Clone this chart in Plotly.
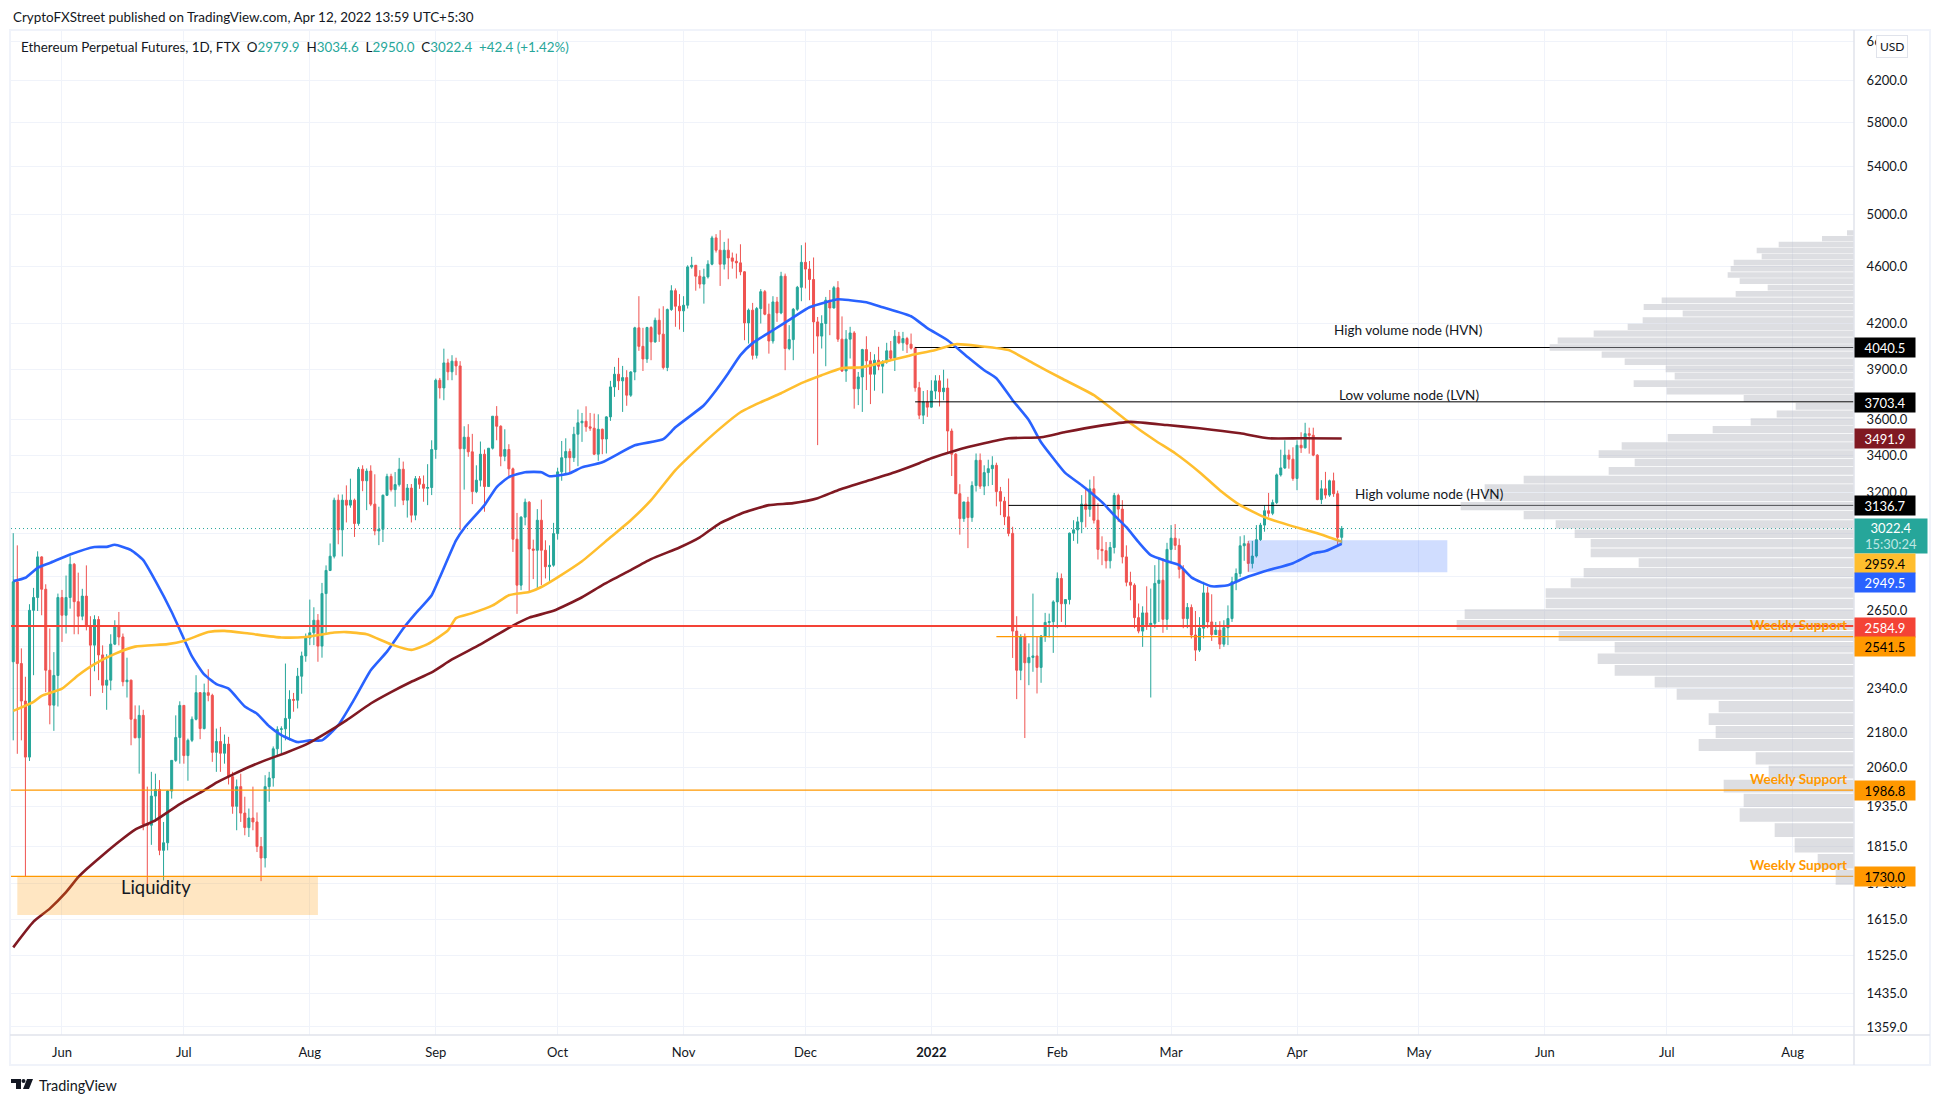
import math
import pandas as pd
import plotly.graph_objects as go

W, H = 1941, 1104
L, R, T, B = 11, 1854, 30, 1035

first_open = 2441
closes = [
2775,2434,2292,2095,2651,2706,2888,2742,2408,2277,
2388,2706,2630,2706,2854,2688,2626,2712,2584,2507,
2612,2468,2351,2370,2511,2584,2540,2364,2370,2226,
2161,2240,1881,1878,1968,1989,1804,1826,1984,2084,
2162,2276,2100,2152,2226,2323,2193,2323,2313,2111,
2148,2108,2139,2030,1936,1998,1915,1871,1900,1888,
1815,1782,1998,2026,2123,2190,2192,2229,2298,2295,
2385,2464,2536,2557,2609,2503,2723,2826,2891,3163,
3016,3163,3138,3163,3047,3324,3263,3314,3143,3011,
3019,3188,3286,3217,3243,3324,3163,3225,3088,3274,
3245,3224,3228,3431,3834,3787,3942,3886,3953,3923,
3435,3499,3418,3207,3266,3405,3233,3438,3619,3561,
3394,3431,3326,2971,2760,3078,3153,2925,2919,3063,
2919,2843,2850,2998,3310,3386,3420,3386,3516,3581,
3590,3558,3550,3405,3544,3489,3615,3793,3871,3830,
3850,3743,3885,4170,4048,3967,4172,4077,4221,4128,
3913,4294,4426,4317,4285,4324,4598,4610,4530,4473,
4525,4618,4817,4723,4618,4723,4665,4640,4628,4562,
4203,4290,3990,4301,4419,4262,4083,4347,4271,4530,
4034,4092,4296,4450,4632,4582,4506,4210,4115,4199,
4359,4305,4447,4095,3891,4095,4136,3782,3854,4027,
3955,3871,3959,3921,3948,4019,3972,4114,4071,4099,
4062,4036,3788,3625,3703,3672,3768,3830,3764,3786,
3534,3405,3196,3071,3154,3076,3238,3372,3235,3306,
3327,3345,3207,3158,3080,2999,2564,2408,2541,2437,
2458,2464,2419,2544,2600,2603,2687,2790,2679,2697,
3000,3016,3055,3143,3117,3221,3063,2923,2917,2870,
2932,3187,3118,2888,2773,2760,2620,2564,2640,2590,
2596,2768,2782,2613,2923,2976,2942,2831,2616,2663,
2548,2487,2576,2726,2602,2550,2568,2511,2578,2616,
2775,2812,2940,2950,2858,2892,2969,3039,3110,3097,
3151,3294,3331,3400,3378,3275,3454,3440,3519,3510,
3400,3166,3221,3189,3263,3196,2979.9,3022.4]
highs = [
3000,2942,2494,2383,2677,2748,2914,2891,2764,2575,
2479,2723,2739,2803,2891,2860,2816,2744,2849,2626,
2630,2626,2506,2471,2551,2609,2644,2554,2457,2372,
2276,2276,2260,1998,2046,2040,2019,1888,1987,2084,
2240,2291,2276,2158,2236,2389,2325,2357,2412,2319,
2193,2199,2172,2164,2046,2021,2040,1966,1929,1998,
1917,1843,2035,2046,2131,2201,2201,2434,2332,2322,
2417,2481,2554,2697,2664,2635,2770,2849,2951,3176,
3192,3192,3239,3274,3171,3336,3345,3328,3345,3297,
3130,3192,3300,3300,3309,3385,3365,3246,3246,3288,
3288,3291,3351,3482,3844,3848,4033,3968,3991,3975,
3953,3561,3573,3518,3345,3475,3431,3438,3619,3678,
3567,3544,3460,3333,3099,3083,3171,3158,2969,3118,
3166,2966,2942,3050,3332,3478,3493,3436,3558,3658,
3638,3677,3638,3634,3630,3548,3619,3830,3917,3974,
3923,3896,3890,4177,4387,4170,4177,4181,4239,4301,
4317,4301,4465,4442,4402,4387,4610,4673,4610,4574,
4585,4647,4833,4846,4877,4786,4812,4705,4697,4768,
4567,4301,4340,4312,4437,4431,4335,4387,4382,4562,
4549,4188,4305,4460,4761,4781,4642,4668,4243,4255,
4382,4431,4460,4494,4247,4155,4177,4148,3885,4032,
4114,4012,3997,4045,3959,4071,4083,4155,4143,4143,
4110,4132,4045,3824,3768,3774,3834,3865,3865,3899,
3844,3548,3412,3245,3154,3180,3260,3409,3409,3345,
3375,3394,3359,3231,3180,3275,3031,2626,2551,2554,
2514,2723,2541,2548,2640,2637,2694,2817,2812,2697,
3003,3063,3080,3189,3231,3269,3287,3147,2985,2958,
2958,3200,3196,3163,2942,2820,2768,2680,2668,2755,
2745,2850,2881,2881,2954,3039,3044,2974,2850,2682,
2676,2648,2622,2775,2753,2720,2602,2605,2609,2672,
2797,2835,2985,2990,2963,2963,3039,3050,3138,3200,
3166,3301,3430,3482,3430,3443,3482,3527,3581,3553,
3553,3405,3266,3310,3269,3306,3212,3034.6]
lows = [
2152,2106,2152,1730,2082,2389,2648,2630,2325,2208,
2185,2272,2520,2554,2658,2551,2551,2609,2567,2310,
2404,2370,2322,2260,2332,2507,2506,2347,2305,2135,
2159,2040,1863,1695,1820,1888,1790,1719,1804,1960,
2079,2073,2073,2017,2146,2222,2156,2190,2291,2079,
2046,2046,2073,2005,1913,1863,1888,1848,1843,1863,
1799,1717,1755,1950,1998,2095,2106,2152,2152,2253,
2265,2319,2441,2507,2507,2441,2457,2551,2823,2881,
2947,2890,3052,3125,2982,3036,3209,3113,3133,2990,
2943,2958,3184,3207,3130,3233,3138,3076,3052,3063,
3221,3155,3138,3189,3380,3723,3713,3834,3834,3865,
3014,3217,3391,3143,3199,3233,3105,3270,3431,3482,
3340,3367,3286,2911,2636,2738,3038,2726,2787,2741,
2760,2790,2779,2843,2969,3263,3302,3299,3363,3340,
3473,3530,3535,3400,3369,3405,3409,3592,3733,3774,
3644,3680,3733,3834,4019,3891,3942,3959,4071,4077,
3901,3890,4285,4177,4159,4143,4301,4585,4426,4442,
4335,4513,4610,4705,4460,4579,4508,4585,4513,4537,
4088,4066,3963,3970,4199,4255,4001,4066,4210,4262,
3896,4023,3959,4285,4352,4442,4359,4001,3455,4034,
3921,4121,4301,4077,3885,3824,3970,3663,3684,3644,
3774,3690,3770,3896,3754,3937,3959,3891,4062,4019,
4005,4027,3764,3602,3574,3615,3668,3719,3676,3713,
3408,3288,3196,2993,3055,2929,3055,3207,3221,3189,
3235,3241,3132,3088,3039,2985,2456,2299,2370,2160,
2351,2402,2320,2360,2520,2538,2476,2576,2602,2580,
2676,2963,2950,3000,3028,3080,3047,2876,2850,2835,
2835,2904,3055,2858,2755,2694,2576,2555,2500,2569,
2305,2576,2602,2557,2569,2858,2920,2790,2576,2576,
2534,2444,2480,2534,2576,2524,2548,2491,2500,2507,
2602,2738,2797,2870,2820,2835,2885,2963,3007,3080,
3088,3143,3285,3325,3327,3263,3214,3412,3436,3408,
3394,3163,3143,3171,3180,3180,2942,2950]

blue_idx = [0,3,6,9,14,20,23,25,29,32,35,39,42,44,47,50,53,57,60,63,66,70,73,76,80,84,88,92,96,99,103,105,109,111,116,119,122,126,130,132,137,140,145,153,160,163,170,173,176,179,182,187,192,196,200,203,206,210,214,221,225,230,235,239,242,246,250,253,256,259,263,268,271,274,277,280,284,287,290,295,299,303,308,315,320,323,327]
blue_val = [2778,2793,2838,2860,2899,2934,2935,2945,2920,2873,2779,2644,2533,2462,2392,2355,2338,2272,2246,2201,2170,2146,2152,2152,2205,2300,2408,2481,2575,2637,2716,2795,2966,3024,3138,3230,3282,3308,3308,3287,3303,3334,3361,3454,3488,3555,3683,3773,3877,3991,4069,4154,4241,4310,4345,4366,4359,4345,4310,4248,4168,4088,3978,3896,3846,3713,3596,3471,3383,3303,3240,3153,3088,3029,2957,2896,2868,2850,2795,2755,2760,2791,2822,2859,2905,2915,2949.5]
yellow_idx = [0,5,7,12,16,20,25,30,38,42,48,52,58,66,72,79,82,87,93,98,102,107,109,113,118,122,127,130,134,140,147,152,157,163,168,174,179,184,189,194,199,204,209,216,221,227,232,238,245,251,258,266,274,281,286,292,297,302,308,314,321,327]
yellow_val = [2256,2289,2311,2338,2389,2432,2472,2501,2511,2524,2560,2565,2554,2538,2540,2558,2560,2551,2510,2488,2511,2567,2618,2639,2672,2716,2730,2752,2795,2868,2980,3063,3163,3319,3426,3549,3642,3701,3755,3816,3865,3909,3915,3959,3991,4024,4062,4049,4024,3940,3846,3743,3596,3482,3410,3308,3214,3138,3078,3039,3000,2959.4]
maroon_idx = [0,5,9,13,16,18,22,26,30,35,41,47,50,54,58,62,67,72,77,82,88,93,98,103,108,115,123,127,133,140,145,151,157,164,169,174,180,186,192,198,203,210,217,223,226,232,239,245,253,259,267,275,284,292,302,309,317,327]
maroon_val = [1544,1609,1643,1687,1728,1750,1790,1829,1865,1893,1943,1986,2011,2037,2062,2084,2109,2137,2177,2222,2283,2325,2364,2400,2450,2510,2587,2620,2649,2707,2760,2818,2878,2932,2980,3049,3102,3138,3148,3173,3214,3261,3308,3356,3383,3426,3465,3493,3499,3528,3562,3586,3568,3550,3521,3493,3493,3491.9]

vp_top, vp_bottom = 4877, 1703
vp_volume = [21,96,226,292,277,361,370,379,343,259,355,577,631,514,634,679,781,889,913,757,688,565,538,661,562,331,175,232,310,424,559,697,766,658,736,991,1108,1108,1180,991,895,838,790,790,646,811,850,925,925,1168,1192,886,718,769,718,598,532,406,436,415,466,295,256,391,331,343,238,178,109,55]

y_tickvals = [6600,6200,5800,5400,5000,4600,4200,3900,3600,3400,3200,3000,2800,2650,2500,2340,2180,2060,1935,1815,1710,1615,1525,1435,1359]
x_tickvals = ["2021-06-01","2021-07-01","2021-08-01","2021-09-01","2021-10-01","2021-11-01","2021-12-01","2022-01-01","2022-02-01","2022-03-01","2022-04-01","2022-05-01","2022-06-01","2022-07-01","2022-08-01"]
x_ticktext = ["Jun","Jul","Aug","Sep","Oct","Nov","Dec","<b>2022</b>","Feb","Mar","Apr","May","Jun","Jul","Aug"]

dates = pd.date_range("2021-05-20", periods=len(closes))
opens = [first_open] + closes[:-1]
hi = [max(h, o, c) for h, o, c in zip(highs, opens, closes)]
lo = [min(l, o, c) for l, o, c in zip(lows, opens, closes)]

TEAL, RED, ORANGE = "#26A69A", "#EF5350", "#FF9800"
MAROON, BLUE, YELLOW = "#801922", "#2962FF", "#FFBE2E"
FONT = "Lato"
TXT = "#131722"
X_START, X_END = "2021-05-19 10:48", "2022-08-16 02:24"

def px(x):
    return (x - L) / (R - L)
def py(y):
    return (B - y) / (B - T)

fig = go.Figure()

# levels drawn beneath the volume profile
for start, level in [("2021-12-28", 4040.5), ("2022-01-20", 3136.7)]:
    fig.add_trace(go.Scatter(x=[start, X_END], y=[level, level], mode="lines",
                             line=dict(color="#000000", width=1), hoverinfo="skip", showlegend=False))
fig.add_trace(go.Scatter(x=[X_START, X_END], y=[1730, 1730], mode="lines",
                         line=dict(color=ORANGE, width=1.2), hoverinfo="skip", showlegend=False))
fig.add_trace(go.Scatter(x=[X_START, X_END], y=[closes[-1]] * 2, mode="lines",
                         line=dict(color=TEAL, width=1, dash="1px 3px"), hoverinfo="skip", showlegend=False))

fig.add_trace(go.Candlestick(
    x=dates, open=opens, high=hi, low=lo, close=closes,
    increasing=dict(line=dict(color=TEAL, width=1), fillcolor=TEAL),
    decreasing=dict(line=dict(color=RED, width=1), fillcolor=RED),
    whiskerwidth=0, showlegend=False))

for idx, val, col in [(blue_idx, blue_val, BLUE), (yellow_idx, yellow_val, YELLOW), (maroon_idx, maroon_val, MAROON)]:
    fig.add_trace(go.Scatter(x=[dates[i] for i in idx], y=val, mode="lines",
                             line=dict(color=col, width=2.6, shape="spline", smoothing=0.5),
                             hoverinfo="skip", showlegend=False))

# volume profile on a reversed overlay axis
n = len(vp_volume)
step = (vp_top - vp_bottom) / n
vx, vy = [], []
for i, v in enumerate(vp_volume):
    top = vp_top - i * step
    bot = top - step * 0.91
    vx += [0, v, v, 0, 0, None]
    vy += [top, top, bot, bot, top, None]
fig.add_trace(go.Scatter(x=vx, y=vy, xaxis="x2", mode="lines", fill="toself",
                         fillcolor="rgba(178,181,190,0.44)", line=dict(width=0),
                         hoverinfo="skip", showlegend=False))

def level_shape(x0, level, color, width):
    return dict(type="line", xref="x", yref="y", x0=x0, x1=X_END, y0=level, y1=level,
                line=dict(color=color, width=width), layer="above")

shapes = [
    level_shape("2021-12-28", 3703.4, "#000000", 1),
    level_shape(X_START, 2584.9, "#F44336", 2),
    level_shape("2022-01-17", 2541.5, ORANGE, 1.2),
    level_shape(X_START, 1986.8, ORANGE, 1.2),
    dict(type="rect", xref="x", yref="y", x0="2021-05-21", x1="2021-08-03", y0=1626, y1=1730,
         fillcolor="rgba(255,152,0,0.24)", line=dict(width=0), layer="above"),
    dict(type="rect", xref="x", yref="y", x0="2022-03-20", x1="2022-05-08", y0=2818, y1=2966,
         fillcolor="rgba(41,98,255,0.22)", line=dict(width=0), layer="above"),
    # chrome: outer frame, axis separators
    dict(type="rect", xref="paper", yref="paper", x0=px(10), x1=px(1930), y0=py(30), y1=py(1065),
         line=dict(color="#F0F3FA", width=2), layer="below"),
    dict(type="line", xref="paper", yref="paper", x0=px(R), x1=px(R), y0=py(T), y1=py(1065),
         line=dict(color="#E0E3EB", width=1.5), layer="above"),
    dict(type="line", xref="paper", yref="paper", x0=px(10), x1=px(1930), y0=py(B), y1=py(B),
         line=dict(color="#E0E3EB", width=1.5), layer="above"),
]
# TradingView logo
def logo_path(points):
    return "M" + " L".join(f"{px(a):.5f},{py(b):.5f}" for a, b in points) + " Z"
for pts in [[(11, 1079), (21, 1079), (21, 1089), (16, 1089), (16, 1083), (11, 1083)],
            [(27, 1079), (33, 1079), (29, 1089), (23, 1089)]]:
    shapes.append(dict(type="path", xref="paper", yref="paper", path=logo_path(pts),
                       fillcolor="#131722", line=dict(width=0)))
shapes.append(dict(type="circle", xref="paper", yref="paper", x0=px(21.5), x1=px(25.5), y0=py(1079), y1=py(1083),
                   fillcolor="#131722", line=dict(width=0)))

def text(x, y, s, size=13, color=TXT, anchor="left", family=FONT):
    return dict(xref="paper", yref="paper", x=px(x), y=py(y), text=s, showarrow=False,
                xanchor=anchor, yanchor="middle", font=dict(family=family, size=size, color=color))

def tag(y, s, bg, fg, w=56, h=15):
    return dict(xref="paper", yref="paper", x=px(R), y=py(y), text=s, showarrow=False,
                xanchor="left", yanchor="middle", align="center", bgcolor=bg, borderpad=2,
                width=w, height=h, font=dict(family=FONT, size=13, color=fg))

def span(s):
    return f'<span style="color:{TEAL}">{s}</span>'

nb = "\u00a0"
legend = (f"Ethereum Perpetual Futures, 1D, FTX{nb}{nb}O{span('2979.9')}{nb}{nb}H{span('3034.6')}"
          f"{nb}{nb}L{span('2950.0')}{nb}{nb}C{span('3022.4')}{nb}{nb}{span('+42.4 (+1.42%)')}")

annotations = [
    text(11, 17, "CryptoFXStreet published on TradingView.com, Apr 12, 2022 13:59 UTC+5:30", 13.45),
    text(19, 47, legend, 13.4),
    text(37, 1085, "TradingView", 14.4),
    text(1408, 330, "High volume node (HVN)", 13.5, anchor="center"),
    text(1409, 395, "Low volume node (LVN)", 13.5, anchor="center"),
    text(1429, 494, "High volume node (HVN)", 13.5, anchor="center"),
    text(156, 887, "Liquidity", 18.4, anchor="center"),
    text(1798, 625, "<b>Weekly Support</b>", 13.6, ORANGE, "center"),
    text(1798, 779, "<b>Weekly Support</b>", 13.6, ORANGE, "center"),
    text(1798, 865, "<b>Weekly Support</b>", 13.6, ORANGE, "center"),
    tag(347.5, "4040.5", "#000000", "#FFFFFF"),
    tag(402.5, "3703.4", "#000000", "#FFFFFF"),
    tag(439, "3491.9", MAROON, "#FFFFFF"),
    tag(505.5, "3136.7", "#000000", "#FFFFFF"),
    tag(536, f'3022.4<br><span style="color:#BFE6E2">15:30:24</span>', TEAL, "#FFFFFF", w=68, h=30),
    tag(563.5, "2959.4", YELLOW, "#000000"),
    tag(582.5, "2949.5", BLUE, "#FFFFFF"),
    tag(627, "2584.9", "#F44336", "#FFFFFF"),
    tag(646, "2541.5", ORANGE, "#000000"),
    tag(790.5, "1986.8", ORANGE, "#000000"),
    tag(876.5, "1730.0", ORANGE, "#000000"),
    dict(xref="paper", yref="paper", x=px(1892), y=py(47), text="USD", showarrow=False,
         xanchor="center", yanchor="middle", bgcolor="#FFFFFF", bordercolor="#E0E3EB", borderwidth=1,
         borderpad=3, font=dict(family=FONT, size=12, color=TXT)),
]

fig.update_layout(
    width=W, height=H, autosize=False, paper_bgcolor="#FFFFFF", plot_bgcolor="#FFFFFF",
    margin=dict(l=L, r=W - R, t=T, b=H - B), showlegend=False,
    xaxis=dict(type="date", range=[X_START, X_END], domain=[0, 1], rangeslider=dict(visible=False),
               tickmode="array", tickvals=x_tickvals, ticktext=x_ticktext, showgrid=True,
               gridcolor="#F0F3FA", gridwidth=1, zeroline=False, showline=False,
               ticks="outside", ticklen=5, tickcolor="rgba(0,0,0,0)",
               tickfont=dict(family=FONT, size=13, color=TXT)),
    xaxis2=dict(overlaying="x", anchor="y", range=[(R - L) * 3, 0], visible=False, showgrid=False),
    yaxis=dict(type="log", side="right", range=[math.log10(1341.6), math.log10(6723)],
               tickmode="array", tickvals=y_tickvals, ticktext=[f"{v:.1f}" for v in y_tickvals],
               showgrid=True, gridcolor="#F0F3FA", gridwidth=1, zeroline=False, showline=False,
               ticks="outside", ticklen=9, tickcolor="rgba(0,0,0,0)",
               tickfont=dict(family=FONT, size=13, color=TXT)),
    shapes=shapes, annotations=annotations,
)
fig.write_html("out.html", config=dict(displayModeBar=False),
               post_script="document.body.style.margin='0';document.body.style.overflow='hidden';")
